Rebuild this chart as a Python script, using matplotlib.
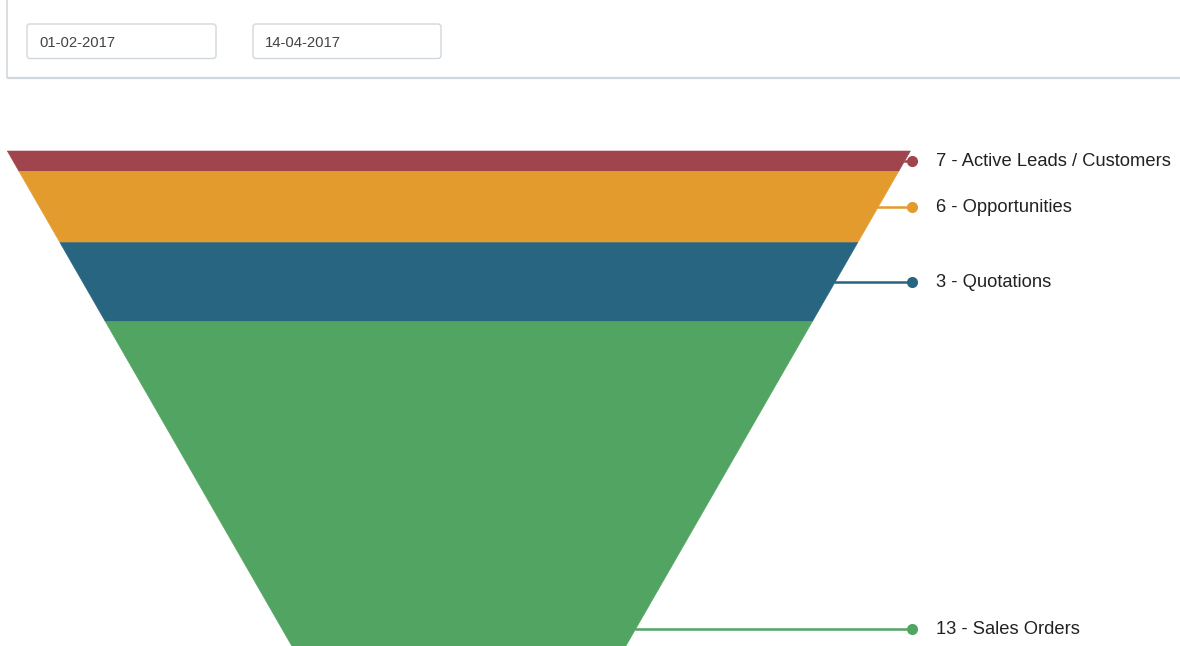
import numpy as np
import matplotlib
matplotlib.use('Agg')
import matplotlib.pyplot as plt
from matplotlib.patches import Polygon, FancyBboxPatch

# Datos del embudo de ventas
stages = ['Active Leads / Customers', 'Opportunities', 'Quotations', 'Sales Orders']
counts = [7, 6, 3, 13]
# parte de la altura del embudo que ocupa cada etapa (%)
section_share = [2.58, 9.08, 10.05, 78.29]
colors = ['#a0444d', '#e49b2e', '#276580', '#52a462']

# Filtros de fecha
date_from = '01-02-2017'
date_to = '14-04-2017'

W, H = 1180, 646
fig = plt.figure(figsize=(W / 100, H / 100), dpi=100)
ax = fig.add_axes([0, 0, 1, 1])
ax.set_xlim(0, W)
ax.set_ylim(H, 0)
ax.axis('off')

# Cabecera con los campos de fecha
border = '#d1d8dd'
ax.plot([7, 7], [0, 77.7], color=border, lw=1.2, solid_capstyle='butt')
ax.plot([7, W], [77.7, 77.7], color=border, lw=1.6, solid_capstyle='butt')
for x0, x1, txt in [(27, 216, date_from), (253, 441, date_to)]:
    box = FancyBboxPatch((x0, 24), x1 - x0, 34.5, boxstyle='round,pad=0,rounding_size=3',
                         fc='white', ec=border, lw=1.0)
    ax.add_patch(box)
    ax.text(x0 + 12, 43, txt, va='center', ha='left', fontsize=10.7,
            family='Liberation Sans', color='#444444')

# Embudo: triángulo invertido
left, right, top = 7.3, 910.4, 151.0
width = right - left
height = 0.87 * width
mid = (left + right) / 2


def half_w(d):
    return width / 2 * (1 - d / height)


shares = np.array(section_share) / sum(section_share)
d0 = 0.0
for stage, n, s, c in zip(stages, counts, shares, colors):
    d1 = d0 + s * height
    pts = [(mid - half_w(d0), top + d0), (mid + half_w(d0), top + d0),
           (mid + half_w(d1), top + d1), (mid - half_w(d1), top + d1)]
    ax.add_patch(Polygon(pts, closed=True, fc=c, ec=c, lw=0.4))

    # leyenda con línea hasta el borde del embudo
    dm = (d0 + d1) / 2
    ym = top + dm
    ax.plot([mid + half_w(dm), 911.5], [ym, ym], color=c, lw=1.8)
    ax.scatter([911.5], [ym], s=64, color=c, zorder=5, linewidths=0)
    ax.text(936, ym + 0.8, f'{n} - {stage}', va='center', ha='left', fontsize=13.2,
            family='Liberation Sans', color='#222222')
    d0 = d1

fig.savefig('out.png', dpi=100)
